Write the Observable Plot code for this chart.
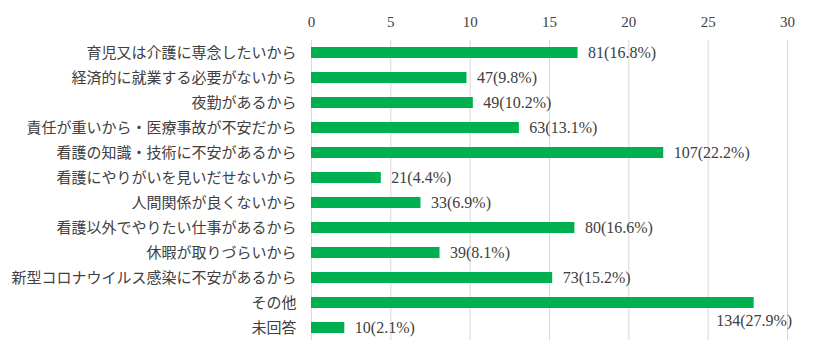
<!DOCTYPE html>
<html>
<head>
<meta charset="utf-8">
<script src="https://cdn.jsdelivr.net/npm/d3@7"></script>
<script src="https://cdn.jsdelivr.net/npm/@observablehq/plot@0.6"></script>
<style>
  body { margin: 0; background: #fff; }
</style>
</head>
<body>
<div id="chart"></div>
<script>
const categories = [
  "育児又は介護に専念したいから",
  "経済的に就業する必要がないから",
  "夜勤があるから",
  "責任が重いから・医療事故が不安だから",
  "看護の知識・技術に不安があるから",
  "看護にやりがいを見いだせないから",
  "人間関係が良くないから",
  "看護以外でやりたい仕事があるから",
  "休暇が取りづらいから",
  "新型コロナウイルス感染に不安があるから",
  "その他",
  "未回答"
];
const counts = [81, 47, 49, 63, 107, 21, 33, 80, 39, 73, 134, 10];
const percents = [16.8, 9.8, 10.2, 13.1, 22.2, 4.4, 6.9, 16.6, 8.1, 15.2, 27.9, 2.1];
const xTicks = [0, 5, 10, 15, 20, 25, 30];

const data = categories.map((c, i) => ({
  cat: c,
  value: percents[i],
  label: `${counts[i]}(${percents[i].toFixed(1)}%)`,
  below: c === "その他"
}));

const textColor = "#404040";
const serif = "'Liberation Serif', 'Noto Sans CJK JP', serif";

const chart = Plot.plot({
  width: 814,
  height: 360,
  marginLeft: 311,
  marginRight: 27,
  marginTop: 40,
  marginBottom: 20,
  style: { fontFamily: serif, fontSize: "15px", color: textColor, background: "#fff" },
  x: { domain: [0, 30], ticks: xTicks },
  y: { domain: categories, paddingInner: 0.56, paddingOuter: 0.28 },
  marks: [
    Plot.gridX(xTicks, { stroke: "#d9d9d9", strokeOpacity: 1 }),
    Plot.axisX(xTicks, { anchor: "top", tickSize: 0, tickPadding: 14, label: null, fontSize: 15, fill: textColor }),
    Plot.axisY({ anchor: "left", tickSize: 0, tickPadding: 15, label: null, fontSize: 15, fill: textColor,
                 fontFamily: "'Noto Sans CJK JP', sans-serif" }),
    Plot.barX(data, { x: "value", y: "cat", fill: "#00B050" }),
    Plot.text(data.filter(d => !d.below), { x: "value", y: "cat", text: "label", textAnchor: "start", dx: 10, fontSize: 16, fill: textColor }),
    Plot.text(data.filter(d => d.below), { x: "value", y: "cat", text: "label", textAnchor: "middle", dy: 18, fontSize: 16, fill: textColor })
  ]
});

document.getElementById("chart").appendChild(chart);
</script>
</body>
</html>
